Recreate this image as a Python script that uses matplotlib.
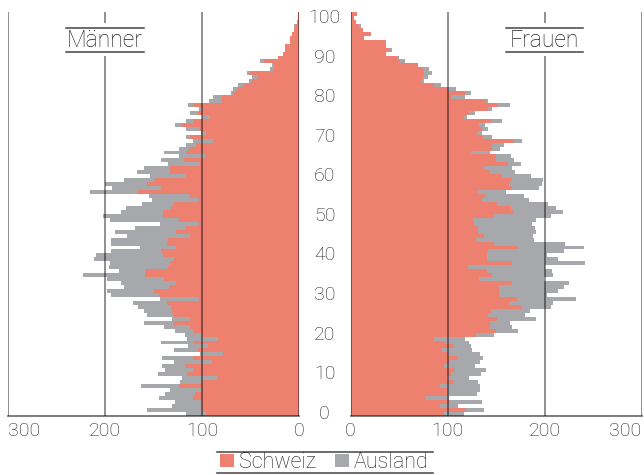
import numpy as np
import matplotlib
matplotlib.use('Agg')
import matplotlib.pyplot as plt
from matplotlib.patches import Patch, Rectangle
from matplotlib.lines import Line2D

plt.rcParams['font.family'] = ['Roboto', 'DejaVu Sans']
plt.rcParams['font.weight'] = 'light'

# ages 0..101 (bottom to top)
ages = np.arange(0, 102)

# Maenner
m_schweiz = [96, 100, 100, 100, 109, 107, 100, 124, 100, 85,
             115, 109, 118, 90, 109, 78, 104, 94, 108, 84,
             100, 109, 112, 130, 112, 130, 131, 132, 136, 103,
             144, 149, 134, 127, 139, 159, 159, 135, 133, 129,
             140, 142, 127, 136, 135, 112, 127, 117, 103, 124,
             140, 140, 132, 129, 103, 113, 167, 142, 157, 148,
             117, 133, 134, 102, 119, 97, 116, 113, 106, 89,
             112, 96, 102, 121, 109, 92, 104, 100, 109, 79,
             79, 68, 64, 57, 48, 43, 51, 26, 26, 36,
             22, 16, 14, 14, 9, 9, 7, 5, 3, 2,
             1, 1]
m_ausland = [20, 57, 31, 28, 35, 31, 33, 39, 23, 36,
             30, 29, 23, 39, 32, 24, 25, 20, 34, 31,
             18, 19, 27, 30, 19, 27, 29, 34, 35, 40,
             50, 49, 46, 56, 59, 64, 27, 61, 62, 82,
             69, 52, 37, 58, 59, 65, 63, 52, 40, 71,
             62, 43, 46, 33, 49, 42, 48, 51, 43, 32,
             37, 34, 26, 33, 23, 27, 23, 11, 11, 20,
             5, 5, 15, 7, 7, 8, 8, 3, 5, 14,
             10, 2, 4, 6, 4, 5, 3, 4, 2, 4,
             0, 0, 0, 0, 0, 0, 0, 0, 2, 0,
             0, 0]

# Frauen
f_schweiz = [96, 119, 92, 102, 77, 100, 100, 92, 107, 99,
             104, 107, 96, 102, 111, 100, 94, 107, 97, 86,
             129, 150, 144, 144, 151, 142, 145, 176, 163, 172,
             153, 153, 153, 166, 132, 146, 141, 121, 166, 141,
             141, 142, 173, 148, 129, 138, 131, 131, 127, 126,
             147, 169, 165, 151, 136, 139, 130, 166, 163, 167,
             156, 144, 138, 162, 150, 150, 124, 146, 146, 169,
             137, 130, 136, 132, 145, 117, 122, 142, 151, 140,
             104, 118, 100, 86, 73, 75, 76, 75, 70, 50,
             48, 37, 40, 37, 37, 14, 21, 13, 9, 6,
             4, 7]
f_ausland = [21, 19, 19, 34, 25, 30, 34, 42, 24, 23,
             31, 33, 32, 32, 26, 34, 31, 17, 25, 32,
             19, 23, 22, 20, 40, 38, 40, 31, 46, 60,
             50, 61, 67, 59, 67, 63, 67, 79, 76, 73,
             62, 78, 68, 73, 60, 50, 60, 59, 60, 65,
             60, 50, 47, 53, 48, 40, 30, 28, 34, 31,
             30, 26, 29, 14, 19, 15, 20, 8, 12, 8,
             9, 6, 6, 7, 11, 3, 6, 4, 13, 2,
             14, 6, 9, 7, 3, 5, 8, 6, 0, 6,
             2, 0, 3, 0, 0, 0, 0, 0, 2, 0,
             0, 0]

age_ticks = [0, 10, 20, 30, 40, 50, 60, 70, 80, 90, 100]
x_ticks = [0, 100, 200, 300]

red = '#ee8070'
grey = '#a7a8ac'
txt = '#222222'
W, H = 644, 475

fig = plt.figure(figsize=(W / 100, H / 100), dpi=100)

# axes boxes in pixels (left, right)
ax_l = fig.add_axes([8 / W, (H - 415.7) / H, 291 / W, 403.7 / H])
ax_r = fig.add_axes([350.5 / W, (H - 415.7) / H, 291 / W, 403.7 / H])

for ax, s, a, title in [(ax_l, m_schweiz, m_ausland, 'Männer'),
                        (ax_r, f_schweiz, f_ausland, 'Frauen')]:
    ax.barh(ages, s, height=1.0, color=red, linewidth=0, zorder=2)
    ax.barh(ages, a, left=s, height=1.0, color=grey, linewidth=0, zorder=2)
    ax.set_xlim(0, 300)
    ax.set_ylim(-0.5, 101.5)
    for sp in ax.spines.values():
        sp.set_visible(False)
    ax.set_xticks([])
    ax.set_yticks([])
    # grid lines on top of bars
    for xv in x_ticks:
        ax.axvline(xv, color='black', alpha=0.55, lw=1.1, zorder=3)
    ax.axhline(-0.5, color='black', alpha=0.55, lw=1.3, zorder=3, clip_on=False)
    # title box with rules above and below
    ax.add_patch(Rectangle((160, 90.4), 80, 8.4, facecolor='white',
                           edgecolor='none', zorder=4))
    ax.plot([160, 240], [97.45, 97.45], color='#444444', lw=1.1, zorder=5)
    ax.plot([160, 240], [91.5, 91.5], color='#444444', lw=1.1, zorder=5)
    ax.text(200, 94.4, title, ha='center', va='center', fontsize=16.5,
            color=txt, zorder=6)
    # x tick labels
    tr = ax.get_xaxis_transform()
    for xv in x_ticks:
        ha = 'center'
        if xv == 300:
            ha = 'left' if ax is ax_l else 'right'
        ax.text(xv, -0.038, str(xv), transform=tr, ha=ha, va='center',
                fontsize=14, color=txt)

ax_l.invert_xaxis()

# age labels in the middle
tr = ax_l.get_yaxis_transform()
for a in age_ticks:
    ax_l.text((324.5 - 8) / 291, a, str(a), transform=tr, ha='center',
              va='center', fontsize=14, color=txt)

# legend with rules
handles = [Patch(facecolor=red, edgecolor='none', label='Schweiz'),
           Patch(facecolor=grey, edgecolor='none', label='Ausland')]
fig.legend(handles=handles, loc='center', bbox_to_anchor=(324.5 / W, 1 - 463 / H),
           ncol=2, frameon=False, fontsize=15.5, handlelength=0.65, handleheight=0.55,
           handletextpad=0.22, columnspacing=0.9, borderpad=0, labelcolor=txt)
for yy in [451.7, 473.3]:
    fig.add_artist(Line2D([217 / W, 433 / W], [1 - yy / H, 1 - yy / H],
                          color='#444444', lw=1.1))

fig.savefig('out.png', dpi=100)
